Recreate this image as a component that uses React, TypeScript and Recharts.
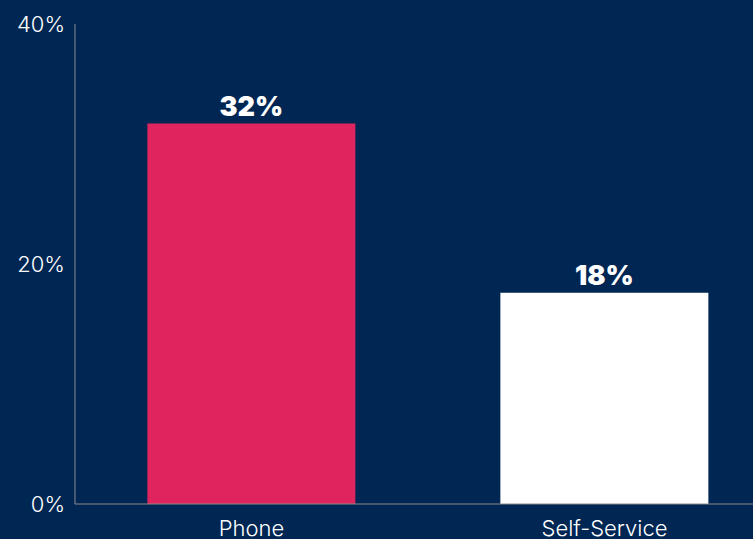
import { BarChart, Bar, XAxis, YAxis, Cell, LabelList } from 'recharts';

const channels = ['Phone', 'Self-Service'];
const shares = [31.7, 17.6];
const barColors = ['#e0245e', '#ffffff'];
const yTicks = [0, 20, 40];

const data = channels.map((name, i) => ({ name, value: shares[i] }));

const BG = '#002654';
const FONT = 'Inter, "Open Sans", sans-serif';

export default function App() {
  return (
    <div
      style={{
        position: 'fixed',
        left: 0,
        top: 0,
        width: 753,
        height: 539,
        overflow: 'hidden',
        background: BG,
        fontFamily: FONT,
      }}
    >
      <BarChart
        width={781}
        height={539}
        data={data}
        margin={{ top: 24, right: 0, bottom: 0, left: 0 }}
        barCategoryGap="20.5%"
      >
        <YAxis
          domain={[0, 40]}
          ticks={yTicks}
          tickFormatter={(v: number) => `${v}%`}
          width={75}
          tickLine={false}
          axisLine={{ stroke: '#8c8c8c', strokeWidth: 1 }}
          tick={{ fill: '#ffffff', fontSize: 22, fontWeight: 300, fontFamily: FONT }}
          tickMargin={4}
        />
        <XAxis
          dataKey="name"
          height={35}
          tickLine={false}
          axisLine={{ stroke: '#8c8c8c', strokeWidth: 1 }}
          tick={{ fill: '#ffffff', fontSize: 22, fontWeight: 300, fontFamily: FONT }}
          tickMargin={10}
        />
        <Bar dataKey="value" isAnimationActive={false}>
          {data.map((d, i) => (
            <Cell key={d.name} fill={barColors[i]} />
          ))}
          <LabelList
            dataKey="value"
            position="top"
            offset={8}
            formatter={(v: number) => `${Math.round(v)}%`}
            style={{ fill: '#ffffff', fontSize: 27, fontWeight: 900, fontFamily: FONT }}
          />
        </Bar>
      </BarChart>
    </div>
  );
}
